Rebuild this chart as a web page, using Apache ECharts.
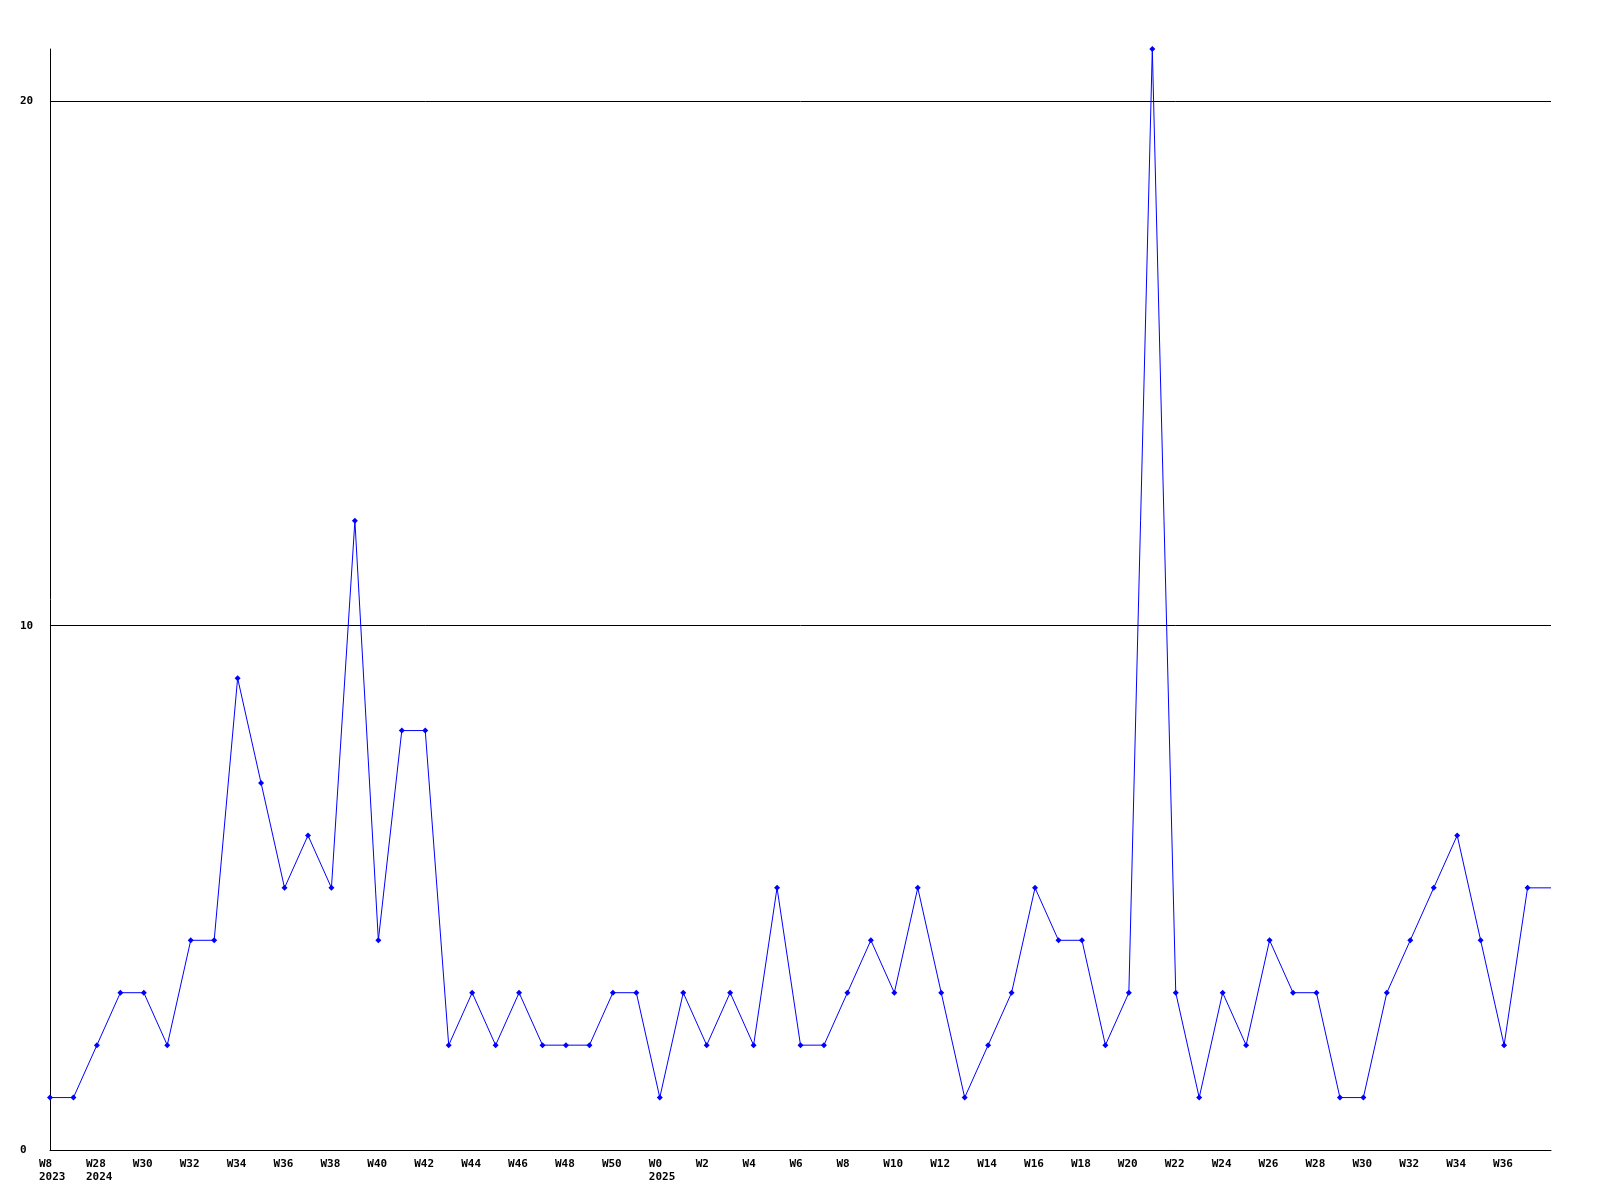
<!DOCTYPE html>
<html><head><meta charset="utf-8">
<script src="https://cdn.jsdelivr.net/npm/echarts@6/dist/echarts.min.js"></script>
<style>html,body{margin:0;padding:0;background:#fff}#c{width:1600px;height:1200px}</style>
</head><body><div id="c"></div>
<script>
const weeks = ["W8\n2023","W27","W28\n2024","W29","W30","W31","W32","W33","W34","W35","W36","W37","W38","W39","W40","W41","W42","W43","W44","W45","W46","W47","W48","W49","W50","W51",
"W0\n2025","W1","W2","W3","W4","W5","W6","W7","W8","W9","W10","W11","W12","W13","W14","W15","W16","W17","W18","W19","W20","W21","W22","W23","W24","W25","W26","W27","W28","W29","W30","W31","W32","W33","W34","W35","W36","W37","W38"];
const counts = [1,1,2,3,3,2,4,4,9,7,5,6,5,12,4,8,8,2,3,2,3,2,2,2,3,3,
1,3,2,3,2,5,2,2,3,4,3,5,3,1,2,3,5,4,4,2,3,21,3,1,3,2,4,3,3,1,1,3,4,5,6,4,2,5,5];
const yTicks = [0,10,20];

const font = '"DejaVu Sans Mono", monospace';
const data = counts.map((v,i)=> i===counts.length-1 ? {value:v, symbolSize:0} : v);
const chart = echarts.init(document.getElementById('c'));
chart.setOption({
  animation:false,
  backgroundColor:'#fff',
  grid:{left:50, top:49, right:49, bottom:50, containLabel:false},
  xAxis:{type:'category', data:weeks, boundaryGap:false,
    axisLine:{lineStyle:{color:'#000', width:1}}, axisTick:{show:false},
    axisLabel:{interval:(i)=> i%2===0 && i<weeks.length-1, color:'#000', fontFamily:font, fontWeight:'bold', fontSize:11, lineHeight:13,
      align:'left', margin:8, padding:[0,0,0,-11]},
    splitLine:{show:false}},
  yAxis:{type:'value', min:0, max:21, interval:10,
    axisLine:{show:true, lineStyle:{color:'#000', width:1}}, axisTick:{show:false},
    axisLabel:{color:'#000', fontFamily:font, fontWeight:'bold', fontSize:11, align:'left', margin:30, padding:[8,0,0,0],
      formatter:v=> yTicks.includes(v) ? String(v) : ''},
    splitLine:{show:true, lineStyle:{color:['#000','#000','#000','rgba(0,0,0,0)'], width:1}}},
  series:[{type:'line', data:data, symbol:'diamond', symbolSize:6, showSymbol:true,
    lineStyle:{color:'#0000ff', width:1}, itemStyle:{color:'#0000ff'}}]
});
</script></body></html>
